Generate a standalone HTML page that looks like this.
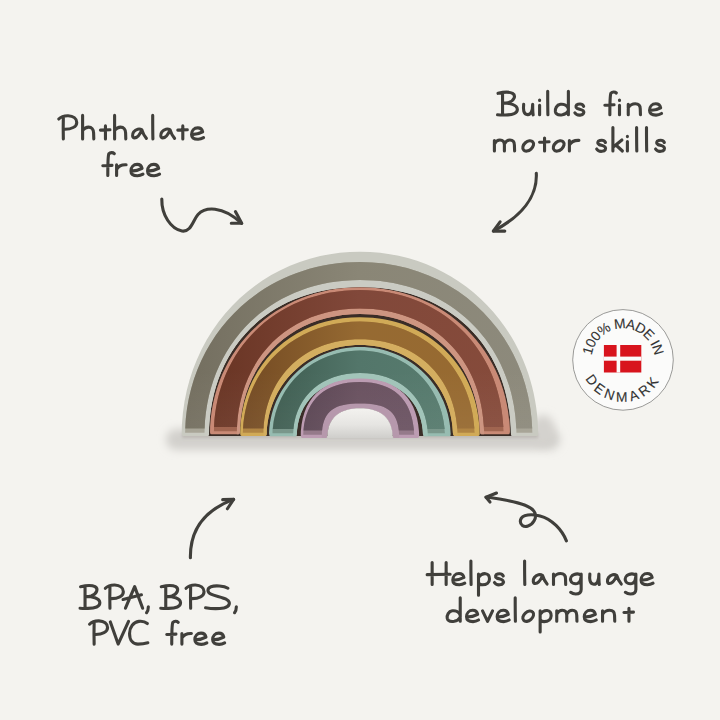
<!DOCTYPE html>
<html><head><meta charset="utf-8"><style>
html,body{margin:0;padding:0;background:#f4f3ef;}
body{width:720px;height:720px;overflow:hidden;position:relative;font-family:"Liberation Sans",sans-serif;}
svg{position:absolute;left:0;top:0;}
</style></head><body>
<svg width="720" height="720" viewBox="0 0 720 720">
<defs>
<linearGradient id="g_grey" x1="0" y1="0" x2="1" y2="0"><stop offset="0" stop-color="#736e5f"/><stop offset="0.5" stop-color="#8a8676"/><stop offset="1" stop-color="#8d8a7c"/></linearGradient>
<linearGradient id="g_pink" x1="0" y1="0" x2="1" y2="0"><stop offset="0" stop-color="#693524"/><stop offset="0.5" stop-color="#81483a"/><stop offset="1" stop-color="#864b3b"/></linearGradient>
<linearGradient id="g_yellow" x1="0" y1="0" x2="1" y2="0"><stop offset="0" stop-color="#734a23"/><stop offset="0.5" stop-color="#966a32"/><stop offset="1" stop-color="#976a31"/></linearGradient>
<linearGradient id="g_teal" x1="0" y1="0" x2="1" y2="0"><stop offset="0" stop-color="#3e5c50"/><stop offset="0.5" stop-color="#53766a"/><stop offset="1" stop-color="#577b6e"/></linearGradient>
<linearGradient id="g_purple" x1="0" y1="0" x2="1" y2="0"><stop offset="0" stop-color="#5a4553"/><stop offset="0.5" stop-color="#6a5260"/><stop offset="1" stop-color="#6b5362"/></linearGradient>
<linearGradient id="hole" x1="0" y1="0" x2="0" y2="1"><stop offset="0" stop-color="#f3f2ef"/><stop offset="0.55" stop-color="#e6e5e2"/><stop offset="1" stop-color="#cfcecb"/></linearGradient>
<filter id="blur4" x="-20%" y="-50%" width="140%" height="200%"><feGaussianBlur stdDeviation="4"/></filter>
<filter id="blur2" x="-20%" y="-50%" width="140%" height="200%"><feGaussianBlur stdDeviation="1.6"/></filter>
<linearGradient id="vlight" gradientUnits="userSpaceOnUse" x1="0" y1="370" x2="0" y2="432"><stop offset="0" stop-color="#ffffff" stop-opacity="0"/><stop offset="1" stop-color="#ffffff" stop-opacity="0.05"/></linearGradient>
</defs>
<rect x="166" y="429" width="394" height="21" rx="10" fill="#d2d0cc" filter="url(#blur4)"/>
<ellipse cx="543" cy="430" rx="12" ry="15" fill="#d4d2ce" filter="url(#blur4)"/>
<rect x="182" y="433" width="356" height="5" fill="#bdb9b5" filter="url(#blur2)"/>
<path d="M208.50,436.00 C208.50,346.75 269.55,286.50 360.00,286.50 C450.45,286.50 511.50,346.75 511.50,436.00 Z" fill="#3a2d27"/>
<clipPath id="rc_grey"><rect x="0" y="0" width="720" height="433.40"/><rect x="181.70" y="430.80" width="27.30" height="5.20" rx="2.6"/><rect x="511.00" y="430.80" width="27.30" height="5.20" rx="2.6"/></clipPath>
<g clip-path="url(#rc_grey)">
<path d="M181.70,436.00 C181.70,332.05 259.44,251.70 360.00,251.70 C460.56,251.70 538.30,332.05 538.30,436.00 L511.00,436.00 C511.00,347.05 450.15,287.00 360.00,287.00 C269.85,287.00 209.00,347.05 209.00,436.00 Z" fill="#c9cac1"/>
<path d="M204.50,436.00 C204.50,345.21 269.50,280.00 360.00,280.00 C451.08,280.00 516.50,345.21 516.50,436.00 L511.00,436.00 C511.00,347.05 450.15,287.00 360.00,287.00 C269.85,287.00 209.00,347.05 209.00,436.00 Z" fill="#cacbc3"/>
<clipPath id="f_grey"><rect x="0" y="0" width="720" height="432.7"/></clipPath>
<path clip-path="url(#f_grey)" d="M185.10,436.00 C185.10,337.17 260.66,262.00 360.00,262.00 C457.92,262.00 532.40,337.17 532.40,436.00 L516.50,436.00 C516.50,345.21 451.08,280.00 360.00,280.00 C269.50,280.00 204.50,345.21 204.50,436.00 Z" fill="#a8a597"/>
<clipPath id="c_grey"><rect x="0" y="0" width="720" height="428.5"/></clipPath>
<path clip-path="url(#c_grey)" d="M185.10,436.00 C185.10,337.17 260.66,262.00 360.00,262.00 C457.92,262.00 532.40,337.17 532.40,436.00 L516.50,436.00 C516.50,345.21 451.08,280.00 360.00,280.00 C269.50,280.00 204.50,345.21 204.50,436.00 Z" fill="url(#g_grey)"/>
<path clip-path="url(#c_grey)" d="M185.10,436.00 C185.10,337.17 260.66,262.00 360.00,262.00 C457.92,262.00 532.40,337.17 532.40,436.00 L516.50,436.00 C516.50,345.21 451.08,280.00 360.00,280.00 C269.50,280.00 204.50,345.21 204.50,436.00 Z" fill="url(#vlight)"/>
</g>
<clipPath id="rc_pink"><rect x="0" y="0" width="720" height="431.90"/><rect x="210.00" y="429.30" width="29.90" height="5.20" rx="2.6"/><rect x="480.10" y="429.30" width="29.90" height="5.20" rx="2.6"/></clipPath>
<g clip-path="url(#rc_pink)">
<path d="M210.00,434.50 C210.00,350.98 274.95,287.20 360.00,287.20 C445.05,287.20 510.00,350.98 510.00,434.50 L480.10,434.50 C480.10,364.01 430.26,314.00 360.00,314.00 C289.74,314.00 239.90,364.01 239.90,434.50 Z" fill="#c98a76"/>
<path d="M236.80,434.50 C236.80,360.16 287.31,308.50 360.00,308.50 C433.28,308.50 484.20,360.16 484.20,434.50 L480.10,434.50 C480.10,364.01 430.26,314.00 360.00,314.00 C289.74,314.00 239.90,364.01 239.90,434.50 Z" fill="#cd9581"/>
<clipPath id="f_pink"><rect x="0" y="0" width="720" height="431.2"/></clipPath>
<path clip-path="url(#f_pink)" d="M213.90,434.50 C213.90,350.98 275.55,290.00 360.00,290.00 C443.00,290.00 503.60,350.98 503.60,434.50 L484.20,434.50 C484.20,360.16 433.28,308.50 360.00,308.50 C287.31,308.50 236.80,360.16 236.80,434.50 Z" fill="#a06550"/>
<clipPath id="c_pink"><rect x="0" y="0" width="720" height="427.0"/></clipPath>
<path clip-path="url(#c_pink)" d="M213.90,434.50 C213.90,350.98 275.55,290.00 360.00,290.00 C443.00,290.00 503.60,350.98 503.60,434.50 L484.20,434.50 C484.20,360.16 433.28,308.50 360.00,308.50 C287.31,308.50 236.80,360.16 236.80,434.50 Z" fill="url(#g_pink)"/>
<path clip-path="url(#c_pink)" d="M213.90,434.50 C213.90,350.98 275.55,290.00 360.00,290.00 C443.00,290.00 503.60,350.98 503.60,434.50 L484.20,434.50 C484.20,360.16 433.28,308.50 360.00,308.50 C287.31,308.50 236.80,360.16 236.80,434.50 Z" fill="url(#vlight)"/>
</g>
<clipPath id="rc_yellow"><rect x="0" y="0" width="720" height="433.40"/><rect x="240.10" y="430.80" width="26.80" height="5.20" rx="2.6"/><rect x="453.10" y="430.80" width="26.80" height="5.20" rx="2.6"/></clipPath>
<g clip-path="url(#rc_yellow)">
<path d="M240.10,436.00 C240.10,367.33 290.70,317.20 360.00,317.20 C429.30,317.20 479.90,367.33 479.90,436.00 L453.10,436.00 C453.10,385.04 412.14,345.00 360.00,345.00 C307.86,345.00 266.90,385.04 266.90,436.00 Z" fill="#d1aa57"/>
<path d="M263.40,436.00 C263.40,378.95 303.01,339.30 360.00,339.30 C417.58,339.30 457.60,378.95 457.60,436.00 L453.10,436.00 C453.10,385.04 412.14,345.00 360.00,345.00 C307.86,345.00 266.90,385.04 266.90,436.00 Z" fill="#d4ae60"/>
<clipPath id="f_yellow"><rect x="0" y="0" width="720" height="432.7"/></clipPath>
<path clip-path="url(#f_yellow)" d="M242.80,436.00 C242.80,370.45 292.96,321.40 360.00,321.40 C425.61,321.40 474.70,370.45 474.70,436.00 L457.60,436.00 C457.60,378.95 417.58,339.30 360.00,339.30 C303.01,339.30 263.40,378.95 263.40,436.00 Z" fill="#b08443"/>
<clipPath id="c_yellow"><rect x="0" y="0" width="720" height="428.5"/></clipPath>
<path clip-path="url(#c_yellow)" d="M242.80,436.00 C242.80,370.45 292.96,321.40 360.00,321.40 C425.61,321.40 474.70,370.45 474.70,436.00 L457.60,436.00 C457.60,378.95 417.58,339.30 360.00,339.30 C303.01,339.30 263.40,378.95 263.40,436.00 Z" fill="url(#g_yellow)"/>
<path clip-path="url(#c_yellow)" d="M242.80,436.00 C242.80,370.45 292.96,321.40 360.00,321.40 C425.61,321.40 474.70,370.45 474.70,436.00 L457.60,436.00 C457.60,378.95 417.58,339.30 360.00,339.30 C303.01,339.30 263.40,378.95 263.40,436.00 Z" fill="url(#vlight)"/>
</g>
<clipPath id="rc_teal"><rect x="0" y="0" width="720" height="433.90"/><rect x="269.10" y="431.30" width="27.80" height="5.20" rx="2.6"/><rect x="423.10" y="431.30" width="27.80" height="5.20" rx="2.6"/></clipPath>
<g clip-path="url(#rc_teal)">
<path d="M269.10,436.50 C269.10,386.92 309.64,347.00 360.00,347.00 C410.36,347.00 450.90,386.92 450.90,436.50 L423.10,436.50 C423.10,401.43 398.49,379.00 360.00,379.00 C321.51,379.00 296.90,401.43 296.90,436.50 Z" fill="#97bcb1"/>
<path d="M293.10,436.50 C293.10,398.40 319.86,373.00 360.00,373.00 C400.74,373.00 427.90,398.40 427.90,436.50 L423.10,436.50 C423.10,401.43 398.49,379.00 360.00,379.00 C321.51,379.00 296.90,401.43 296.90,436.50 Z" fill="#a2c4b9"/>
<clipPath id="f_teal"><rect x="0" y="0" width="720" height="433.2"/></clipPath>
<path clip-path="url(#f_teal)" d="M272.50,436.50 C272.50,388.34 311.00,350.50 360.00,350.50 C407.60,350.50 445.00,388.34 445.00,436.50 L427.90,436.50 C427.90,398.40 400.74,373.00 360.00,373.00 C319.86,373.00 293.10,398.40 293.10,436.50 Z" fill="#7a978b"/>
<clipPath id="c_teal"><rect x="0" y="0" width="720" height="429.0"/></clipPath>
<path clip-path="url(#c_teal)" d="M272.50,436.50 C272.50,388.34 311.00,350.50 360.00,350.50 C407.60,350.50 445.00,388.34 445.00,436.50 L427.90,436.50 C427.90,398.40 400.74,373.00 360.00,373.00 C319.86,373.00 293.10,398.40 293.10,436.50 Z" fill="url(#g_teal)"/>
<path clip-path="url(#c_teal)" d="M272.50,436.50 C272.50,388.34 311.00,350.50 360.00,350.50 C407.60,350.50 445.00,388.34 445.00,436.50 L427.90,436.50 C427.90,398.40 400.74,373.00 360.00,373.00 C319.86,373.00 293.10,398.40 293.10,436.50 Z" fill="url(#vlight)"/>
</g>
<clipPath id="rc_purple"><rect x="0" y="0" width="720" height="435.40"/><rect x="300.70" y="432.80" width="26.60" height="5.20" rx="2.6"/><rect x="392.70" y="432.80" width="26.60" height="5.20" rx="2.6"/></clipPath>
<g clip-path="url(#rc_purple)">
<path d="M300.70,438.00 C300.70,399.26 321.45,378.40 360.00,378.40 C398.55,378.40 419.30,399.26 419.30,438.00 L392.70,438.00 C392.70,418.55 381.42,408.30 360.00,408.30 C338.58,408.30 327.30,418.55 327.30,438.00 Z" fill="#bc9cb2"/>
<path d="M321.80,438.00 C321.80,412.54 331.73,403.60 360.00,403.60 C389.01,403.60 399.20,412.54 399.20,438.00 L392.70,438.00 C392.70,418.55 381.42,408.30 360.00,408.30 C338.58,408.30 327.30,418.55 327.30,438.00 Z" fill="#b698ac"/>
<clipPath id="f_purple"><rect x="0" y="0" width="720" height="434.7"/></clipPath>
<path clip-path="url(#f_purple)" d="M303.20,438.00 C303.20,401.60 323.08,382.00 360.00,382.00 C395.30,382.00 414.30,401.60 414.30,438.00 L399.20,438.00 C399.20,412.54 389.01,403.60 360.00,403.60 C331.73,403.60 321.80,412.54 321.80,438.00 Z" fill="#957a8a"/>
<clipPath id="c_purple"><rect x="0" y="0" width="720" height="430.5"/></clipPath>
<path clip-path="url(#c_purple)" d="M303.20,438.00 C303.20,401.60 323.08,382.00 360.00,382.00 C395.30,382.00 414.30,401.60 414.30,438.00 L399.20,438.00 C399.20,412.54 389.01,403.60 360.00,403.60 C331.73,403.60 321.80,412.54 321.80,438.00 Z" fill="url(#g_purple)"/>
<path clip-path="url(#c_purple)" d="M303.20,438.00 C303.20,401.60 323.08,382.00 360.00,382.00 C395.30,382.00 414.30,401.60 414.30,438.00 L399.20,438.00 C399.20,412.54 389.01,403.60 360.00,403.60 C331.73,403.60 321.80,412.54 321.80,438.00 Z" fill="url(#vlight)"/>
</g>
<path d="M327.30,438.00 C327.30,418.55 338.58,408.30 360.00,408.30 C381.42,408.30 392.70,418.55 392.70,438.00 Z" fill="url(#hole)"/>

<g>
<circle cx="623" cy="359.9" r="50.3" fill="#fbfbfa" stroke="#8e8e8c" stroke-width="0.9"/>
<defs>
<path id="arcTop" d="M591.4,359.9 A31.6,31.6 0 0 1 654.6,359.9"/>
<path id="arcBot" d="M581.2,359.9 A41.8,41.8 0 0 0 664.8,359.9"/>
</defs>
<text font-family="Liberation Sans" font-size="13.8" fill="#333333" stroke="#333333" stroke-width="0.12" letter-spacing="-0.55"><textPath href="#arcTop" startOffset="50%" text-anchor="middle">100% MADE IN</textPath></text>
<text font-family="Liberation Sans" font-size="13.8" fill="#333333" stroke="#333333" stroke-width="0.12" letter-spacing="3.4"><textPath href="#arcBot" startOffset="50%" text-anchor="middle">DENMARK</textPath></text>
<rect x="603.9" y="345" width="37.4" height="27.5" fill="#d8141d"/>
<rect x="616.6" y="345" width="3.6" height="27.5" fill="#fbfbfa"/>
<rect x="603.9" y="356.6" width="37.4" height="4.1" fill="#fbfbfa"/>
</g>

<g fill="none" stroke="#403f3b" stroke-width="3.1" stroke-linecap="round" stroke-linejoin="round"><path transform="translate(58.75,138.90)" d="M0,-19.9 C2,-22 5,-23.3 9.4,-23.2 C14.5,-23 18,-20.5 18,-16.5 C18,-12 12.5,-9.8 6,-9.6 M4.6,-21.8 C4.4,-14 4.4,-7 4.6,0"/>
<path transform="translate(81.60,138.90)" d="M1,-23.5 L1,0 M1,-8.5 C3,-11 5,-11.8 7,-11.8 C10,-11.8 12,-9.5 12,-6 L12.2,0"/>
<path transform="translate(100.45,138.90)" d="M5,-13 L5,0 M0,-8.8 L9.5,-9.2"/>
<path transform="translate(113.60,138.90)" d="M1,-23.5 L1,0 M1,-8.5 C3,-11 5,-11.8 7,-11.8 C10,-11.8 12,-9.5 12,-6 L12.2,0"/>
<path transform="translate(131.38,138.90)" d="M10.5,-9 C8.2,-10.5 4.5,-10 2.3,-7 C0.5,-4.5 0.9,-1 3.2,-1 C6,-1 8.6,-4.5 10.5,-9 C11.4,-6 12.7,-3 15,-0.5"/>
<path transform="translate(151.70,138.90)" d="M1,-23.5 C1,-15 1,-7 1.2,0"/>
<path transform="translate(159.58,138.90)" d="M10.5,-9 C8.2,-10.5 4.5,-10 2.3,-7 C0.5,-4.5 0.9,-1 3.2,-1 C6,-1 8.6,-4.5 10.5,-9 C11.4,-6 12.7,-3 15,-0.5"/>
<path transform="translate(177.80,138.90)" d="M5,-13 L5,0 M0,-8.8 L9.5,-9.2"/>
<path transform="translate(191.05,138.90)" d="M0.8,-4.3 C4.5,-4.3 8.5,-5.2 11.6,-7 C11,-10 9,-11 6.7,-11 C3,-11 0.5,-8 0.5,-4.5 C0.5,-1 3.5,0.3 7,0.3 C9.2,0.3 11,-0.4 12.5,-1.3"/>
<path transform="translate(102.80,175.40)" d="M11.5,-21.8 C10,-23.2 7.5,-23.2 6,-21.5 C5.2,-19.5 5,-10 5,0 M0,-9.6 L9.2,-10"/>
<path transform="translate(115.60,175.40)" d="M1,-10.5 L1,0 M1,-6 C3,-9.5 6.5,-10.8 10.5,-10.6"/>
<path transform="translate(130.45,175.40)" d="M0.8,-4.3 C4.5,-4.3 8.5,-5.2 11.6,-7 C11,-10 9,-11 6.7,-11 C3,-11 0.5,-8 0.5,-4.5 C0.5,-1 3.5,0.3 7,0.3 C9.2,0.3 11,-0.4 12.5,-1.3"/>
<path transform="translate(147.05,175.40)" d="M0.8,-4.3 C4.5,-4.3 8.5,-5.2 11.6,-7 C11,-10 9,-11 6.7,-11 C3,-11 0.5,-8 0.5,-4.5 C0.5,-1 3.5,0.3 7,0.3 C9.2,0.3 11,-0.4 12.5,-1.3"/>
<path transform="translate(499.55,114.80)" d="M-1.5,-21.5 C4,-22.8 10,-23 13,-21.5 C16.5,-19.5 15,-14 9,-12.3 C6,-11.6 3,-11.8 3,-11.8 C10,-12 17.5,-10 17.8,-5.5 C18,-1.5 13,0 6,0.2 C3,0.3 0,0.2 -2,0 M3,-22 L3,0"/>
<path transform="translate(522.67,114.80)" d="M1,-10.5 C0.5,-6 0.5,-0.5 5,-0.2 C8,0 10,-3 10,-10.5 C10,-5 10,-2 10.5,0"/>
<path transform="translate(538.60,114.80)" d="M1,-9.5 L1,0 M1,-14.8 L1,-14.4"/>
<path transform="translate(546.70,114.80)" d="M1,-23.5 C1,-15 1,-7 1.2,0"/>
<path transform="translate(554.88,114.80)" d="M13.5,-23.5 L13.5,0 M13.5,-6 C12.5,-9.5 9,-11 5.5,-10.5 C1.8,-10 0,-6 0.5,-3 C1,-0.5 4,0.5 7.5,0 C10.5,-0.5 12.3,-2 13.5,-4"/>
<path transform="translate(574.85,114.80)" d="M8.8,-8.5 C7.9,-10.5 5.3,-11 3.1,-10.5 C0.9,-10 0.4,-7.5 2.2,-6.5 C4.4,-5.5 7,-5.5 8.4,-4 C9.7,-2.5 8.8,0 5.3,0.3 C3.1,0.5 0.9,-0.5 0,-2"/>
<path transform="translate(604.85,114.80)" d="M11.5,-21.8 C10,-23.2 7.5,-23.2 6,-21.5 C5.2,-19.5 5,-10 5,0 M0,-9.6 L9.2,-10"/>
<path transform="translate(618.50,114.80)" d="M1,-9.5 L1,0 M1,-14.8 L1,-14.4"/>
<path transform="translate(627.25,114.80)" d="M1,-10.5 L1,0 M1,-7 C3,-10 5.5,-11 8,-11 C11.5,-11 13,-9 13,-6 L13.2,0"/>
<path transform="translate(649.05,114.80)" d="M0.8,-4.3 C4.5,-4.3 8.5,-5.2 11.6,-7 C11,-10 9,-11 6.7,-11 C3,-11 0.5,-8 0.5,-4.5 C0.5,-1 3.5,0.3 7,0.3 C9.2,0.3 11,-0.4 12.5,-1.3"/>
<path transform="translate(493.40,151.00)" d="M1,-10.5 L1,0 M1,-7 C2.5,-10 4.5,-11 6.5,-11 C9.5,-11 11,-9 11,-6 L11,0 M11,-7 C12.5,-10 14.5,-11 16.5,-11 C19.5,-11 21,-9 21,-6 L21.2,0"/>
<path transform="translate(522.89,151.00)" d="M9.83,-9.18 A6.1,4.1 -42 1 0 0.77,-1.02 A6.1,4.1 -42 1 0 9.83,-9.18 Z"/>
<path transform="translate(539.55,151.00)" d="M5,-13 L5,0 M0,-8.8 L9.5,-9.2"/>
<path transform="translate(553.39,151.00)" d="M9.83,-9.18 A6.1,4.1 -42 1 0 0.77,-1.02 A6.1,4.1 -42 1 0 9.83,-9.18 Z"/>
<path transform="translate(568.40,151.00)" d="M1,-10.5 L1,0 M1,-6 C3,-9.5 6.5,-10.8 10.5,-10.6"/>
<path transform="translate(596.65,151.00)" d="M8.8,-8.5 C7.9,-10.5 5.3,-11 3.1,-10.5 C0.9,-10 0.4,-7.5 2.2,-6.5 C4.4,-5.5 7,-5.5 8.4,-4 C9.7,-2.5 8.8,0 5.3,0.3 C3.1,0.5 0.9,-0.5 0,-2"/>
<path transform="translate(611.90,151.00)" d="M1,-23.5 L1,0 M10,-11 L2,-4.5 M4,-6 L10.5,0"/>
<path transform="translate(626.40,151.00)" d="M1,-9.5 L1,0 M1,-14.8 L1,-14.4"/>
<path transform="translate(635.60,151.00)" d="M1,-23.5 C1,-15 1,-7 1.2,0"/>
<path transform="translate(645.50,151.00)" d="M1,-23.5 C1,-15 1,-7 1.2,0"/>
<path transform="translate(655.55,151.00)" d="M8.8,-8.5 C7.9,-10.5 5.3,-11 3.1,-10.5 C0.9,-10 0.4,-7.5 2.2,-6.5 C4.4,-5.5 7,-5.5 8.4,-4 C9.7,-2.5 8.8,0 5.3,0.3 C3.1,0.5 0.9,-0.5 0,-2"/>
<path transform="translate(82.05,608.20)" d="M-1.5,-21.5 C4,-22.8 10,-23 13,-21.5 C16.5,-19.5 15,-14 9,-12.3 C6,-11.6 3,-11.8 3,-11.8 C10,-12 17.5,-10 17.8,-5.5 C18,-1.5 13,0 6,0.2 C3,0.3 0,0.2 -2,0 M3,-22 L3,0"/>
<path transform="translate(105.35,608.20)" d="M0,-19.9 C2,-22 5,-23.3 9.4,-23.2 C14.5,-23 18,-20.5 18,-16.5 C18,-12 12.5,-9.8 6,-9.6 M4.6,-21.8 C4.4,-14 4.4,-7 4.6,0"/>
<path transform="translate(125.45,608.20)" d="M0,0 L9.2,-21.6 L17.2,0 M-2.4,-8.7 L16,-13.4"/>
<path transform="translate(146.55,608.20)" d="M1.8,-1.5 C1.8,1 1.2,3 0,4.5"/>
<path transform="translate(162.75,608.20)" d="M-1.5,-21.5 C4,-22.8 10,-23 13,-21.5 C16.5,-19.5 15,-14 9,-12.3 C6,-11.6 3,-11.8 3,-11.8 C10,-12 17.5,-10 17.8,-5.5 C18,-1.5 13,0 6,0.2 C3,0.3 0,0.2 -2,0 M3,-22 L3,0"/>
<path transform="translate(186.05,608.20)" d="M0,-19.9 C2,-22 5,-23.3 9.4,-23.2 C14.5,-23 18,-20.5 18,-16.5 C18,-12 12.5,-9.8 6,-9.6 M4.6,-21.8 C4.4,-14 4.4,-7 4.6,0"/>
<path transform="translate(206.95,608.20)" d="M21,-20 C17,-22.5 8,-23 4,-21.5 C0,-20 0,-16 4,-14 C8,-12 16,-11 20,-8.5 C24,-6 23,-1.5 17,-0.3 C11,0.8 3,0.3 -1.4,-0.5"/>
<path transform="translate(234.55,608.20)" d="M1.8,-1.5 C1.8,1 1.2,3 0,4.5"/>
<path transform="translate(89.55,644.10)" d="M0,-19.9 C2,-22 5,-23.3 9.4,-23.2 C14.5,-23 18,-20.5 18,-16.5 C18,-12 12.5,-9.8 6,-9.6 M4.6,-21.8 C4.4,-14 4.4,-7 4.6,0"/>
<path transform="translate(110.35,644.10)" d="M0,-22.2 L7.8,0 L18.2,-22.7"/>
<path transform="translate(129.55,644.10)" d="M17.8,-20.6 C15.5,-22.5 12,-23 9.3,-22.7 C4,-22 0,-17 0,-10.7 C0,-4 3.5,0 8.4,0 C12,0 15.5,-0.5 18.3,-1.3"/>
<path transform="translate(166.75,644.10)" d="M11.5,-21.8 C10,-23.2 7.5,-23.2 6,-21.5 C5.2,-19.5 5,-10 5,0 M0,-9.6 L9.2,-10"/>
<path transform="translate(180.90,644.10)" d="M1,-10.5 L1,0 M1,-6 C3,-9.5 6.5,-10.8 10.5,-10.6"/>
<path transform="translate(194.35,644.10)" d="M0.8,-4.3 C4.5,-4.3 8.5,-5.2 11.6,-7 C11,-10 9,-11 6.7,-11 C3,-11 0.5,-8 0.5,-4.5 C0.5,-1 3.5,0.3 7,0.3 C9.2,0.3 11,-0.4 12.5,-1.3"/>
<path transform="translate(212.15,644.10)" d="M0.8,-4.3 C4.5,-4.3 8.5,-5.2 11.6,-7 C11,-10 9,-11 6.7,-11 C3,-11 0.5,-8 0.5,-4.5 C0.5,-1 3.5,0.3 7,0.3 C9.2,0.3 11,-0.4 12.5,-1.3"/>
<path transform="translate(427.15,584.50)" d="M5,-22 L5,0 M19,-22 L19,0 M0,-9.9 L23,-10.3"/>
<path transform="translate(452.30,584.50)" d="M0.8,-4.3 C4.5,-4.3 8.5,-5.2 11.6,-7 C11,-10 9,-11 6.7,-11 C3,-11 0.5,-8 0.5,-4.5 C0.5,-1 3.5,0.3 7,0.3 C9.2,0.3 11,-0.4 12.5,-1.3"/>
<path transform="translate(469.90,584.50)" d="M1,-23.5 C1,-15 1,-7 1.2,0"/>
<path transform="translate(477.50,584.50)" d="M1,-10.5 L1,10.7 M1,-7 C3,-10 5.5,-11 8,-10.8 C11,-10.5 12,-8 12,-5.5 C12,-2 9,0.3 5,0.3 C3,0.3 1.5,-0.5 1,-2"/>
<path transform="translate(494.45,584.50)" d="M8.8,-8.5 C7.9,-10.5 5.3,-11 3.1,-10.5 C0.9,-10 0.4,-7.5 2.2,-6.5 C4.4,-5.5 7,-5.5 8.4,-4 C9.7,-2.5 8.8,0 5.3,0.3 C3.1,0.5 0.9,-0.5 0,-2"/>
<path transform="translate(523.60,584.50)" d="M1,-23.5 C1,-15 1,-7 1.2,0"/>
<path transform="translate(532.08,584.50)" d="M10.5,-9 C8.2,-10.5 4.5,-10 2.3,-7 C0.5,-4.5 0.9,-1 3.2,-1 C6,-1 8.6,-4.5 10.5,-9 C11.4,-6 12.7,-3 15,-0.5"/>
<path transform="translate(552.50,584.50)" d="M1,-10.5 L1,0 M1,-7 C3,-10 5.5,-11 8,-11 C11.5,-11 13,-9 13,-6 L13.2,0"/>
<path transform="translate(570.17,584.50)" d="M11,-9 C9.5,-10.5 6.5,-11 4,-10 C1,-9 0,-6 0.5,-4 C1,-1.5 4,-0.5 7,-1 C9.5,-1.5 11,-4 11,-10.5 L11,5 C11,8.5 8.5,9.5 5.5,9.5 C3.5,9.5 2,9 0.5,7.8"/>
<path transform="translate(588.87,584.50)" d="M1,-10.5 C0.5,-6 0.5,-0.5 5,-0.2 C8,0 10,-3 10,-10.5 C10,-5 10,-2 10.5,0"/>
<path transform="translate(606.28,584.50)" d="M10.5,-9 C8.2,-10.5 4.5,-10 2.3,-7 C0.5,-4.5 0.9,-1 3.2,-1 C6,-1 8.6,-4.5 10.5,-9 C11.4,-6 12.7,-3 15,-0.5"/>
<path transform="translate(624.87,584.50)" d="M11,-9 C9.5,-10.5 6.5,-11 4,-10 C1,-9 0,-6 0.5,-4 C1,-1.5 4,-0.5 7,-1 C9.5,-1.5 11,-4 11,-10.5 L11,5 C11,8.5 8.5,9.5 5.5,9.5 C3.5,9.5 2,9 0.5,7.8"/>
<path transform="translate(640.55,584.50)" d="M0.8,-4.3 C4.5,-4.3 8.5,-5.2 11.6,-7 C11,-10 9,-11 6.7,-11 C3,-11 0.5,-8 0.5,-4.5 C0.5,-1 3.5,0.3 7,0.3 C9.2,0.3 11,-0.4 12.5,-1.3"/>
<path transform="translate(446.73,621.30)" d="M13.5,-23.5 L13.5,0 M13.5,-6 C12.5,-9.5 9,-11 5.5,-10.5 C1.8,-10 0,-6 0.5,-3 C1,-0.5 4,0.5 7.5,0 C10.5,-0.5 12.3,-2 13.5,-4"/>
<path transform="translate(466.05,621.30)" d="M0.8,-4.3 C4.5,-4.3 8.5,-5.2 11.6,-7 C11,-10 9,-11 6.7,-11 C3,-11 0.5,-8 0.5,-4.5 C0.5,-1 3.5,0.3 7,0.3 C9.2,0.3 11,-0.4 12.5,-1.3"/>
<path transform="translate(482.55,621.30)" d="M0,-10.5 L5,0 L10,-10.5"/>
<path transform="translate(496.65,621.30)" d="M0.8,-4.3 C4.5,-4.3 8.5,-5.2 11.6,-7 C11,-10 9,-11 6.7,-11 C3,-11 0.5,-8 0.5,-4.5 C0.5,-1 3.5,0.3 7,0.3 C9.2,0.3 11,-0.4 12.5,-1.3"/>
<path transform="translate(514.20,621.30)" d="M1,-23.5 C1,-15 1,-7 1.2,0"/>
<path transform="translate(522.89,621.30)" d="M9.83,-9.18 A6.1,4.1 -42 1 0 0.77,-1.02 A6.1,4.1 -42 1 0 9.83,-9.18 Z"/>
<path transform="translate(539.15,621.30)" d="M1,-10.5 L1,10.7 M1,-7 C3,-10 5.5,-11 8,-10.8 C11,-10.5 12,-8 12,-5.5 C12,-2 9,0.3 5,0.3 C3,0.3 1.5,-0.5 1,-2"/>
<path transform="translate(555.75,621.30)" d="M1,-10.5 L1,0 M1,-7 C2.5,-10 4.5,-11 6.5,-11 C9.5,-11 11,-9 11,-6 L11,0 M11,-7 C12.5,-10 14.5,-11 16.5,-11 C19.5,-11 21,-9 21,-6 L21.2,0"/>
<path transform="translate(583.75,621.30)" d="M0.8,-4.3 C4.5,-4.3 8.5,-5.2 11.6,-7 C11,-10 9,-11 6.7,-11 C3,-11 0.5,-8 0.5,-4.5 C0.5,-1 3.5,0.3 7,0.3 C9.2,0.3 11,-0.4 12.5,-1.3"/>
<path transform="translate(601.55,621.30)" d="M1,-10.5 L1,0 M1,-7 C3,-10 5.5,-11 8,-11 C11.5,-11 13,-9 13,-6 L13.2,0"/>
<path transform="translate(623.95,621.30)" d="M5,-13 L5,0 M0,-8.8 L9.5,-9.2"/>

<path d="M161.8,199 C161.5,215 171,229 182,231 C191,232.5 193,220 198,214.5 C205,207 222,205 241.7,223.3"/>
<path d="M235.4,211.5 L241.7,223.3 L231.3,223.3"/>
<path d="M536.3,173.3 C537.5,196 522,216 493.5,231"/>
<path d="M500.1,221.8 L493.3,231.1 L504.8,231.1"/>
<path d="M190.4,557.7 C190,530 205,510 233.6,499.4"/>
<path d="M222.7,499.6 L233.6,499.4 L227.4,508.75"/>
<path d="M566.4,540.8 C562,530 552,519 540,516 C532,514 522,514 520.5,520 C519.5,525 524,527.5 528,526 C533,524.5 537,518 535,513 C532,506 520,503 505,500 C498,498.5 492,497.5 486,497.2"/>
<path d="M496.5,493 L486,497.2 L490,502"/>
</g>
</svg>
</body></html>
